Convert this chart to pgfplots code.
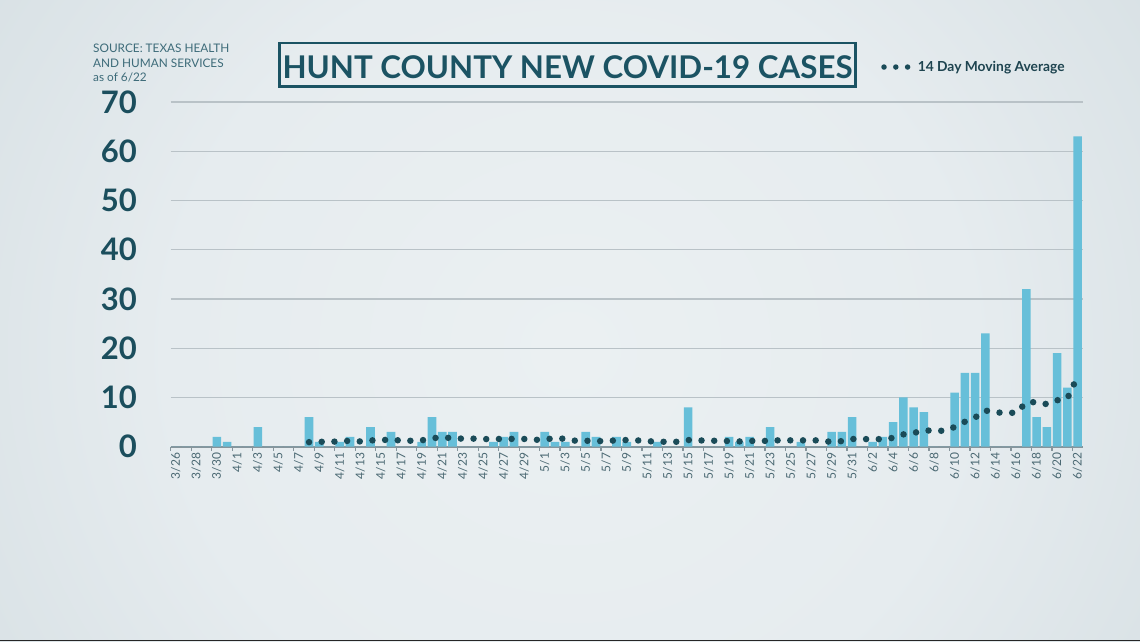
\documentclass[border=0pt]{standalone}
\usepackage{pgfplots}
\pgfplotsset{compat=1.18}
\usepackage{pgfplotstable}
\usepackage{fontspec}
\setmainfont{Lato}
\definecolor{bg0}{HTML}{EBF0F2}
\definecolor{bg1}{HTML}{E6ECEF}
\definecolor{bg2}{HTML}{D7E0E4}
\definecolor{bg3}{HTML}{C0CCD2}
\definecolor{bg4}{HTML}{ADBBC2}
\definecolor{bg5}{HTML}{9DAEB6}
\definecolor{barc}{HTML}{67BFD9}
\definecolor{dotc}{HTML}{1A4B58}
\definecolor{titc}{HTML}{1B5363}
\definecolor{ylabc}{HTML}{1B4E5D}
\definecolor{srcc}{HTML}{3D6B79}
\definecolor{tickc}{HTML}{4A6872}
\definecolor{gridc}{HTML}{B9C2C7}
\definecolor{axisc}{HTML}{86959C}
\definecolor{legc}{HTML}{1E4450}
\pgfdeclareradialshading{bgshade}{\pgfpoint{0bp}{0bp}}{color(0bp)=(bg0); color(15bp)=(bg1); color(27bp)=(bg2); color(38bp)=(bg3); color(46bp)=(bg4); color(56bp)=(bg5)}

% day index 0 = 3/26 ... 88 = 6/22
\pgfplotstableread{
d v
0 0
1 0
2 0
3 0
4 2
5 1
6 0
7 0
8 4
9 0
10 0
11 0
12 0
13 6
14 1
15 0
16 1
17 2
18 0
19 4
20 0
21 3
22 0
23 0
24 1
25 6
26 3
27 3
28 0
29 0
30 0
31 1
32 2
33 3
34 0
35 0
36 3
37 1
38 1
39 0
40 3
41 2
42 0
43 2
44 1
45 0
46 0
47 1
48 0
49 0
50 8
51 0
52 0
53 0
54 2
55 1
56 2
57 0
58 4
59 0
60 0
61 1
62 0
63 0
64 3
65 3
66 6
67 0
68 1
69 2
70 5
71 10
72 8
73 7
74 0
75 0
76 11
77 15
78 15
79 23
80 0
81 0
82 0
83 32
84 6
85 4
86 19
87 12
88 63
}\casedata

\pgfplotstableread{
d m
13 0.93
14 1.00
15 1.00
16 1.07
17 1.21
18 1.07
19 1.29
20 1.29
21 1.50
22 1.21
23 1.21
24 1.29
25 1.71
26 1.93
27 1.71
28 1.64
29 1.64
30 1.57
31 1.50
32 1.64
33 1.57
34 1.57
35 1.36
36 1.57
37 1.64
38 1.64
39 1.21
40 1.21
41 1.14
42 1.14
43 1.29
44 1.36
45 1.29
46 1.14
47 1.00
48 1.00
49 1.00
50 1.36
51 1.29
52 1.21
53 1.21
54 1.14
55 1.07
56 1.21
57 1.07
58 1.29
59 1.29
60 1.29
61 1.29
62 1.29
63 1.29
64 0.93
65 1.14
66 1.57
67 1.57
68 1.50
69 1.57
70 1.79
71 2.50
72 2.79
73 3.29
74 3.29
75 3.21
76 4.00
77 5.07
78 5.93
79 7.36
80 6.93
81 6.93
82 6.86
83 9.00
84 9.07
85 8.64
86 9.43
87 9.79
88 14.29
}\madata

\begin{document}
\begin{tikzpicture}[x=1pt,y=1pt]
\useasboundingbox (0,0) rectangle (1140,-641);
\begin{scope}
\clip (0,0) rectangle (1140,-641);
\shade[shading=bgshade] (-100,300) rectangle (1240,-1000);
\fill[black!85] (0,-639.5) rectangle (1140,-641);
\end{scope}

% source note
\node[anchor=base west, inner sep=0pt, text=srcc, font=\fontsize{11.8}{14}\selectfont] at (93,-52.7) {SOURCE: TEXAS HEALTH};
\node[anchor=base west, inner sep=0pt, text=srcc, font=\fontsize{11.8}{14}\selectfont] at (93,-67.5) {AND HUMAN SERVICES};
\node[anchor=base west, inner sep=0pt, text=srcc, font=\fontsize{11.8}{14}\selectfont] at (93,-81.7) {as of 6/22};

% title
\draw[titc, line width=2.7pt] (279.35,-43) rectangle (855.65,-86.4);
\node[anchor=base, inner sep=0pt, text=titc, font=\fontsize{31.3}{32}\selectfont\bfseries] at (567.5,-78.3) {HUNT COUNTY NEW COVID-19 CASES};

\begin{axis}[
  at={(170.7pt,-446.7pt)}, anchor=south west,
  scale only axis, width=912pt, height=344.7pt,
  xmin=0, xmax=89, ymin=0, ymax=70,
  clip=false,
  axis x line*=bottom, axis y line*=left,
  y axis line style={draw=none},
  x axis line style={draw=axisc, line width=1.8pt},
  /pgf/number format/assume math mode=true,
  ytick={0,10,...,70},
  ymajorgrids,
  y grid style={draw=gridc, line width=1.3pt},
  ytick style={draw=none},
  yticklabel style={anchor=east, inner sep=0pt, xshift=-29.7pt, text=ylabc, font=\fontsize{31}{32}\selectfont\bfseries},
  xtick={0,2,...,88},
  xticklabels={3/26,3/28,3/30,4/1,4/3,4/5,4/7,4/9,4/11,4/13,4/15,4/17,4/19,4/21,4/23,4/25,4/27,4/29,5/1,5/3,5/5,5/7,5/9,5/11,5/13,5/15,5/17,5/19,5/21,5/23,5/25,5/27,5/29,5/31,6/2,6/4,6/6,6/8,6/10,6/12,6/14,6/16,6/18,6/20,6/22},
  tick align=outside,
  major tick length=4pt,
  xtick style={draw=axisc, line width=1.2pt},
  xticklabel style={xshift=5.12pt, rotate=90, anchor=east, inner sep=0pt, xshift=-2pt, text=tickc, font=\fontsize{12}{13}\selectfont},
  legend style={at={(0.7789,1.1015)}, anchor=west, draw=none, fill=none, inner sep=0pt,
    font=\fontsize{13.8}{15}\selectfont\bfseries, text=legc,
    /tikz/every odd column/.append style={column sep=5pt}},
  legend cell align=left,
]
\addplot[ybar, bar width=8.6pt, fill=barc, draw=none, forget plot]
  table[x expr=\thisrow{d}+0.5, y=v] {\casedata};
\addplot[draw=dotc, line width=6.5pt, line cap=round, dash pattern=on 0pt off 12.7pt, mark=none,
  legend image code/.code={\draw[dotc, line width=5.5pt, line cap=round, dash pattern=on 0pt off 11.8pt] (0pt,0pt) -- (24pt,0pt);}]
  table[x expr=\thisrow{d}+0.5, y=m] {\madata};
\addlegendentry{14 Day Moving Average}
\end{axis}
\end{tikzpicture}
\end{document}
